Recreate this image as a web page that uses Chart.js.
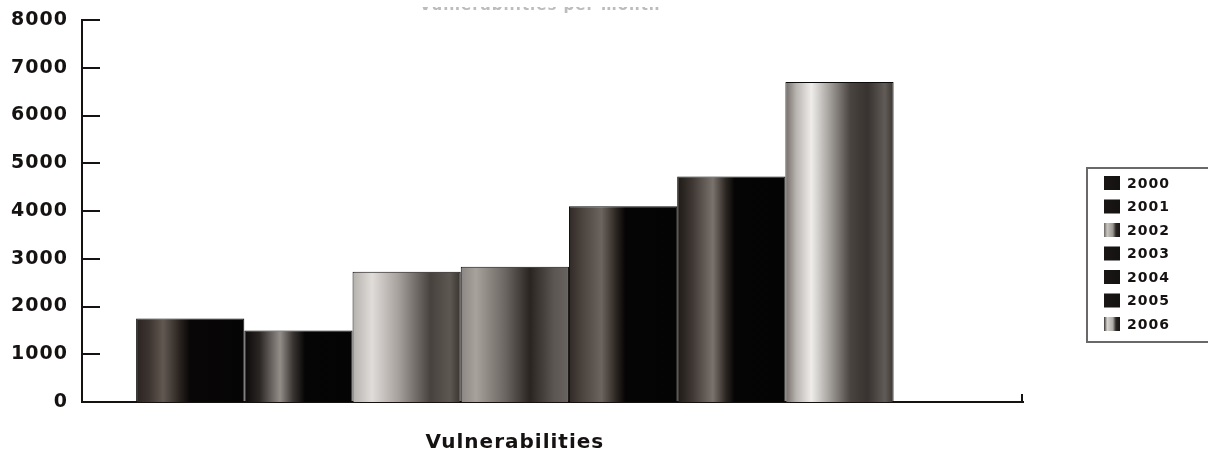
<!DOCTYPE html>
<html>
<head>
<meta charset="utf-8">
<script src="https://cdn.jsdelivr.net/npm/chart.js@4/dist/chart.umd.min.js"></script>
<style>
  html, body { margin: 0; padding: 0; background: #ffffff; }
  #chart { display: block; }
</style>
</head>
<body>
<canvas id="chart" width="1208" height="464"></canvas>
<script>
// Yearly vulnerability counts, one bar per year inside a single group
const years = ['2000', '2001', '2002', '2003', '2004', '2005', '2006'];
const counts = [1750, 1500, 2730, 2830, 4100, 4720, 6700];
const groupLabel = 'Vulnerabilities';
const chartTitle = 'Vulnerabilities per month';

// Font and colours
const FONT = "'DejaVu Sans', sans-serif";
const INK = '#161212';
const CAT_PCT = 0.805;

// Cylinder-like shading across each bar (offset, colour)
const shades = [
  [[0, '#2a2420'], [0.12, '#3c3430'], [0.25, '#625852'], [0.4, '#2a2420'], [0.5, '#080606'], [1, '#060505']],
  [[0, '#0a0808'], [0.14, '#2a2624'], [0.33, '#948e89'], [0.45, '#3a3532'], [0.56, '#060505'], [1, '#050404']],
  [[0, '#b4b0ac'], [0.18, '#e0dcd9'], [0.42, '#a8a29e'], [0.72, '#48423e'], [0.9, '#5e5853'], [1, '#3a3430']],
  [[0, '#8c8682'], [0.14, '#a8a29d'], [0.42, '#6a6460'], [0.64, '#2a2420'], [0.86, '#5c5652'], [1, '#6a6460']],
  [[0, '#302a26'], [0.12, '#4a433e'], [0.3, '#6c645e'], [0.44, '#2a2420'], [0.52, '#060505'], [1, '#050404']],
  [[0, '#1e1916'], [0.14, '#3e3733'], [0.33, '#7a726c'], [0.45, '#2c2622'], [0.53, '#060505'], [1, '#050404']],
  [[0, '#726c68'], [0.1, '#b8b4b0'], [0.24, '#efedeb'], [0.4, '#a8a4a0'], [0.6, '#4a4440'], [0.76, '#383230'], [0.92, '#625c58'], [1, '#3a3430']]
];
// Legend swatches: mostly dark, lighter where the bar is light
const swatchShades = [
  [[0, '#1a1616'], [1, '#141111']],
  [[0, '#1a1616'], [1, '#141111']],
  [[0, '#6a6662'], [0.2, '#c8c4c0'], [0.55, '#9a9692'], [0.75, '#2a2624'], [1, '#1a1616']],
  [[0, '#1a1616'], [1, '#141111']],
  [[0, '#1a1616'], [1, '#141111']],
  [[0, '#1a1616'], [1, '#141111']],
  [[0, '#3a3634'], [0.2, '#d8d4d0'], [0.55, '#b0aca8'], [0.75, '#2a2624'], [1, '#1a1616']]
];

function barFill(chart, i) {
  const xs = chart.scales && chart.scales.x;
  if (!chart.chartArea || !xs) return shades[i][0][1];
  const n = chart.data.datasets.length;
  const group = xs.width * CAT_PCT;
  const left = xs.getPixelForValue(0) - group / 2 + i * group / n;
  const g = chart.ctx.createLinearGradient(left, 0, left + group / n, 0);
  shades[i].forEach(([o, c]) => g.addColorStop(o, c));
  return g;
}

// Slight letter spacing for the lettering (the context is reset on resize)
const spacing = {
  id: 'spacing',
  beforeUpdate(chart) { chart.ctx.letterSpacing = '1px'; },
  beforeDraw(chart) { chart.ctx.letterSpacing = '1px'; }
};

// Inward tick marks on the value axis and the closing tick at the end of the base line
const axisMarks = {
  id: 'axisMarks',
  afterDraw(chart) {
    const { ctx, chartArea: a, scales: { y } } = chart;
    ctx.save();
    ctx.strokeStyle = INK;
    ctx.lineWidth = 2;
    ctx.beginPath();
    y.ticks.forEach(t => {
      if (t.value === 0) return;
      const py = Math.round(y.getPixelForValue(t.value));
      ctx.moveTo(a.left, py);
      ctx.lineTo(a.left + 18, py);
    });
    ctx.moveTo(a.right - 1, a.bottom);
    ctx.lineTo(a.right - 1, a.bottom - 8);
    ctx.stroke();
    ctx.restore();
  }
};

// Faded heading along the top edge, only its lowest strip shows
const heading = {
  id: 'heading',
  afterDraw(chart) {
    const ctx = chart.ctx;
    ctx.save();
    ctx.beginPath();
    ctx.rect(0, 7, chart.width, 8);
    ctx.clip();
    ctx.fillStyle = '#bcbcbc';
    ctx.font = 'bold 15px ' + FONT;
    ctx.textAlign = 'center';
    ctx.textBaseline = 'alphabetic';
    ctx.fillText(chartTitle, 540, 10);
    ctx.restore();
  }
};

// Boxed legend on the right
const boxLegend = {
  id: 'boxLegend',
  afterDraw(chart) {
    const ctx = chart.ctx;
    const sets = chart.data.datasets;
    ctx.save();
    ctx.strokeStyle = '#6a6868';
    ctx.lineWidth = 2;
    ctx.strokeRect(1087, 168, 140, 174);
    ctx.font = 'bold 14px ' + FONT;
    ctx.textAlign = 'left';
    ctx.textBaseline = 'middle';
    sets.forEach((ds, i) => {
      const cy = 183 + i * 23.5;
      const g = ctx.createLinearGradient(1104, 0, 1120, 0);
      swatchShades[i].forEach(([o, c]) => g.addColorStop(o, c));
      ctx.fillStyle = g;
      ctx.fillRect(1104, cy - 7, 16, 14);
      ctx.fillStyle = INK;
      ctx.fillText(ds.label, 1127, cy + 1);
    });
    ctx.restore();
  }
};

new Chart(document.getElementById('chart'), {
  type: 'bar',
  data: {
    datasets: years.map((yr, i) => ({
      label: yr,
      data: [{ x: 0, y: counts[i] }],
      backgroundColor: (c) => barFill(c.chart, i),
      borderColor: '#0c0a0a',
      borderWidth: 1,
      borderSkipped: 'bottom',
      barPercentage: 1,
      categoryPercentage: CAT_PCT
    }))
  },
  options: {
    responsive: false,
    devicePixelRatio: 1,
    animation: false,
    layout: { padding: { top: 20, right: 185, bottom: 0, left: 0 } },
    plugins: {
      legend: { display: false },
      title: { display: false },
      tooltip: { enabled: false }
    },
    scales: {
      x: {
        type: 'linear',
        min: -0.46,
        max: 0.54,
        offset: false,
        afterBuildTicks: (s) => { s.ticks = [{ value: 0 }]; },
        afterFit: (s) => { s.height = 62; },
        grid: { display: false, drawTicks: false },
        border: { display: true, color: INK, width: 2 },
        ticks: {
          callback: () => groupLabel,
          color: INK,
          padding: 29,
          maxRotation: 0,
          font: { family: FONT, size: 20, weight: 'bold' }
        }
      },
      y: {
        min: 0,
        max: 8000,
        afterFit: (s) => { s.width = 82; s.paddingTop = 0; s.paddingBottom = 0; },
        grid: { display: false, drawTicks: false },
        border: { display: true, color: INK, width: 2 },
        ticks: {
          stepSize: 1000,
          callback: (v) => String(v),
          color: INK,
          padding: 14,
          font: { family: FONT, size: 19, weight: 'bold' }
        }
      }
    }
  },
  plugins: [spacing, axisMarks, heading, boxLegend]
});
</script>
</body>
</html>
